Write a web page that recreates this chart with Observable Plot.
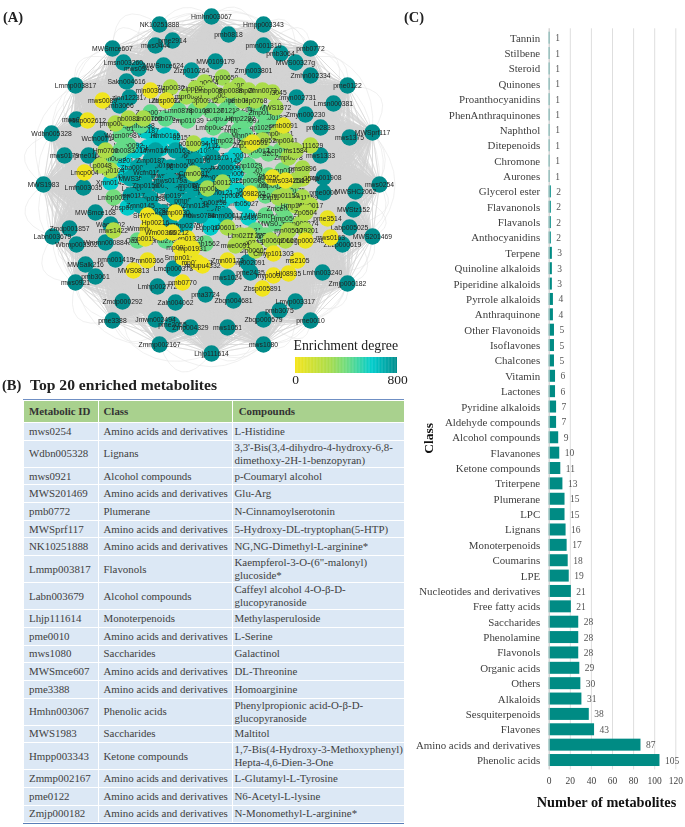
<!DOCTYPE html>
<html><head><meta charset="utf-8">
<script src="https://cdn.jsdelivr.net/npm/d3@7"></script>
<script src="https://cdn.jsdelivr.net/npm/@observablehq/plot@0.6"></script>
<style>
html,body{margin:0;padding:0;background:#fff}
#page{position:relative;width:685px;height:827px;overflow:hidden;font-family:"Liberation Serif",serif;filter:blur(0.4px)}
#page>div{position:absolute}
.tag{font-weight:bold;font-size:14.5px;color:#222}
#tb{left:23px;top:399px;width:381px;font-size:10.9px;color:#404040;background:#fff;border-top:1px solid #6f8fc4;border-bottom:1px solid #5b7fb8}
#tb table{border-collapse:collapse;table-layout:fixed;width:381px}
#tb td,#tb th{box-sizing:border-box;padding:0 0 0 5px;border:1px solid #fff;vertical-align:middle;text-align:left;white-space:pre-line;line-height:13px;overflow:visible}
#tb th{background:#a9d18e;font-weight:bold;height:22px;color:#333}
#tb td{background:#dce8f5}
#tb td:nth-child(3){padding-left:1.5px;white-space:pre}
#tb th:nth-child(3){padding-left:5.7px}
svg{display:block;overflow:visible}
</style></head><body>
<div id="page">
<div id="net" style="left:0;top:0"></div>
<div id="leg" style="left:285px;top:336px"></div>
<div class="tag" style="left:3px;top:9px">(A)</div>
<div class="tag" style="left:2px;top:377px">(B)</div>
<div class="tag" style="left:404px;top:9px">(C)</div>
<div style="left:30px;top:376px;font-weight:bold;font-size:15.6px;color:#222">Top 20 enriched metabolites</div>
<div id="tb"></div>
<div id="bars" style="left:400px;top:0"></div>
</div>
<script>
// ---------- Panel A : network nodes [name, layout x, layout y, enrichment degree]
const ringNodes = [
["Hmhn003067",211,16,800],["NK10251888",159,24,800],["Hmpp003343",263,24,800],["pmb0818",228,34,790],["pme2914",172,40,790],["mws0444",155,45,790],["pmn001310",263,45,790],["pmb0772",310,48,800],["pmb3064",280,53,780],["MWSmce607",112,48,800],["MW0109179",215,61,780],["MWSmce624",163,65,780],["MWS00327g",295,62,780],["Lmsn003260",123,62,780],["mws0943",138,68,780],["Zizp010264",191,70,760],["Zmjn003801",253,70,780],["Zmhn002334",310,75,800],["Sakn004616",126,81,780],["Lmmp003817",75,85,800],["pme0122",347,85,800],["Lmsn000381",333,103,790],["zion122317",129,97,780],["Zmyn002731",296,97,780],["pmb3066",119,105,770],["Zmyn000230",305,114,780],["mws0853",76,119,790],["Wdbn005328",51,133,800],["MWSprf117",372,132,800],["pmb2833",320,127,790],["mws1375",349,137,790],["Wcfn007146",100,138,780],["mws0179",64,155,790],["pme0166",88,155,790],["mws1333",320,155,790],["pmp001908",323,177,790],["MWS1983",43,184,800],["mws0254",379,184,800],["Lmfn003035",83,187,790],["MWSHC2062",355,191,790],["pme0000",323,192,790],["MWStz152",353,209,790],["MWSmce168",95,212,790],["Wagp002",110,224,780],["Zmdp001857",69,228,790],["Labn003679",52,236,800],["MWS201469",372,236,800],["Labp005025",349,227,790],["Wbmp003302",76,244,790],["Zbzp000619",342,244,790],["Wmmn000884",105,242,780],["pmn001419",115,259,780],["MWSalk216",85,264,790],["pmb3061",95,276,790],["mws0921",75,282,800],["Lmhn003240",322,272,790],["Zmjp000182",347,283,800],["mws1024",227,277,780],["pme2435",250,272,780],["zmp002091",247,262,770],["Lmcp000373",173,268,780],["Lmhp002772",157,286,790],["pma3724",205,294,790],["Zbqn004681",233,300,790],["Zmdp000292",122,301,800],["Zaln004062",175,302,790],["Lmyp003317",295,301,790],["pmb3075",279,310,790],["Zbqp000579",263,319,790],["Jmwn002494",155,319,790],["pme3388",112,320,800],["pme2055",172,324,790],["pme0010",310,320,800],["mws1051",227,327,800],["Zmp004329",190,327,790],["Zmmp002167",159,344,800],["mws1080",263,344,800],["Lhjp111614",211,353,800]
];
const cyanNodes = [
["Zbsp00347",127,207,610],["Zhan002151",172,137,590],["Wsnn0272",153,135,610],["MWSHY005",147,147,600],["mws1454",160,148,610],["MWS20146",123,160,600],["Lcmn0085",140,180,590],["Xmn0145",110,182,610],["pmn00187",212,145,600],["Zbn0112",205,145,610],["Zhp00012",235,155,590],["Cmp00053",235,173,600],["Lmp00023",237,190,590],["pmb05027",242,203,600],["nws4001",248,217,590],["mws1217",213,223,600],["Lqbp0140",210,227,610],["Mhn0321",222,200,620],["Hmn0141",135,150,610],["Lmp00981",125,175,600],["Zhp0187",145,130,620],["Wmn00321",225,180,600],["mp0145",228,160,610],["Zmp01094",198,150,600],["Hmb0165",165,135,610],["mws0731",220,215,600],["Lcp0024",230,195,590]
];
const tealCore = [
["Zbp000275",137,167,720],["nb0609",183,155,730],["Lasp002993",140,188,720],["Hmlp001950",160,185,730],["mws0178",170,167,720],["S00275",207,170,730],["Zhn003033",200,177,720],["Lmbp102833",177,205,730],["hmn00617",190,215,730],["Zmp002003",162,212,740],["mp00213",203,200,720],["mws0782",210,208,730],["nmp00219",170,225,720],["Lmbp00158",208,202,730],["hn000000",225,167,720],["mp001870",212,157,740],["Hmm00017",225,215,730],["Zbp0195",160,165,730],["MWS30",130,178,720],["Lmm0149",155,150,730],["Zhp0013",185,175,740],["Mhp0221",195,188,730],["Hp0150",178,188,740],["Zmjp0188",150,198,730],["Lmp01975",172,195,730],["pmn0277",188,200,730],["mws0784",200,215,720],["Hmmn0121",215,192,720],["Wcfn0165",148,172,730],["Zxp01032",215,177,740],["Zmp0187",150,160,740],["Lmn0163",175,150,720],["Hmp0190",195,160,730],["mws1190",165,175,720],["pmb0609",180,165,730],["Zbp0150",145,185,740],["Lmn0282",155,210,730],["Hmp0275",185,225,720],["Cmn0117",130,195,730],["Zmn0145",140,205,720],["mp0197",190,185,730],["Wcn0116",205,185,720],["mws0179a",170,180,730],["Zhn0124",195,205,720]
];
const greenNodes = [
["Zmjn0076",150,112,430],["Lmap0123",125,128,430],["Wgcn0098",120,135,420],["Hmm0098",110,158,420],["Zmp01039",187,120,420],["Lmbp00876",213,127,420],["Hmpn0013",232,113,420],["Zmp1029",255,108,430],["mn00182",272,117,420],["Lbtp0108",220,118,430],["pmb2280",238,130,420],["Zhp102906",262,127,420],["WS2005",268,153,410],["Zhp00147",255,170,420],["Lsmn0105",282,170,400],["Smce0072",265,195,420],["MWSmce482",265,215,420],["MWS01502",275,223,420],["Zmce0087",282,208,400],["Qazp00",137,240,420],["pmb2787",165,240,430],["pmb1562",205,243,410],["Lmbp0027",113,197,390],["Mhn0145",245,135,430],["Lmp0012",255,150,420],["Zhp1029",248,165,430],["Ybjp0087",268,175,420],["Hmp0210",225,140,420],["Lmn0875",228,100,410],["Hmn0097",245,120,420],["Zmp0110",262,112,420],["Lcp0127",280,150,400],["Mp01218",225,110,420],["Zhp0127",210,110,410],["nmp0108",195,110,420],["Lmb0761",165,118,430],["Lmn0878",178,110,420],["Hmp2282",240,118,420],["Zhn0051",260,185,420],["mp00165",275,185,410],["Lcp00982",250,180,430],["Smp0175",290,190,400],["Lbp2112",255,230,420],["MWS0114",265,235,400],["Hmp0500",285,218,410],["Wqp0092",128,145,420],["Zmb0083",120,150,420],["Lmh0088",140,125,430]
];
const limeNodes = [
["Zizp00650",222,77,290],["Zizp0064",204,82,270],["hp00884",238,85,280],["Lmhp00882",218,95,280],["pmb3045",272,92,260],["pmb0853",242,100,290],["Ymp0077",248,90,270],["MWS1872",275,107,280],["Lmbp00912",200,100,270],["Zizp0030",170,87,260],["Lmhp00821",166,100,240],["Lmpr0080",186,96,280],["Wqan00760",143,118,270],["pmp00011",115,123,240],["p0100094",193,143,250],["Zhp10293",247,145,240],["pmp00041",277,133,260],["p111629",310,145,220],["mp0041",285,140,260],["mws0254a",302,178,200],["Zmp0078",288,157,280],["pms0896",302,168,270],["Zipp0104",110,170,250],["mws1422",113,230,240],["Cmn0081",193,173,280],["Smp0088",207,188,290],["p0060121",227,227,270],["Lcjp211220",248,235,260],["mwso0323n",248,242,240],["sip006059",255,250,230],["Zxp111615",278,197,280],["pmp11159",302,197,270],["Hmp1017",295,205,270],["pmp000874",300,223,280],["J179201",305,230,260],["mn00500",288,230,270],["p0012",222,182,290],["Zhp0052",262,140,260],["Zipp0077",195,88,270],["Lmbp0087",210,90,280],["mp0088",230,90,270],["Hp0768",255,100,280],["Zmn0073",262,90,260],["ms1584",295,150,260],["Lmn1115",295,180,270],["mp01159",285,195,270],["Wq0017",310,205,240],["Zp0504",305,212,230],["Lcp0211",240,235,270],["mwe0091",235,245,250],["Hp0607",285,240,230],["Cp00602",270,240,260],["nb0082",128,118,250],["Hm0760",105,150,250],["Lp0048",100,165,240]
];
const yellowNodes = [
["mws0089",102,100,10],["Hmp002612",87,120,20],["mjn00366",150,90,20],["Lmcp004",84,172,10],["Zbsp0027",166,100,60],["pmb0091",283,125,60],["Zhn00501",252,142,50],["p0025687",272,177,40],["p0098262",250,193,10],["pme3514",327,218,40],["Lcgp000248",305,240,30],["mws0163",330,237,20],["SHY0286",147,215,20],["Wmmn00918",147,228,30],["mp00194",145,238,50],["Zmp0030",175,212,40],["Lmp01320",187,238,30],["mp00306",180,247,20],["Zmp00212",172,232,30],["Zmn00366",147,260,20],["MWS0813",133,270,10],["Smpn01178",182,257,20],["mp021671",197,262,20],["mpupu4332",202,265,10],["pmb0770",182,282,10],["Zmn00173",227,260,20],["myp009288",273,275,10],["Hj08935",288,273,20],["ms2105",297,260,10],["Cmyp101303",273,253,20],["Zbsp005891",262,288,10],["mws034254",285,180,30],["mp01931",192,248,30],["Wm00366",160,232,30],["Hp00216",155,222,30]
];
const degreeStops = [0,270,400,600,800];
const degreeColors = ["#f5e51b","#a8dc4c","#6fdc80","#00cdcd","#008b8b"];
const degreeEnds = [0,800];
const degreeRamp = d3.range(0,800,6);

// ---------- Panel B : table
const tableHeads = ["Metabolic ID","Class","Compounds"];
const tableIds = ["mws0254","Wdbn005328","mws0921","MWS201469","pmb0772","MWSprf117","NK10251888","Lmmp003817","Labn003679","Lhjp111614","pme0010","mws1080","MWSmce607","pme3388","Hmhn003067","MWS1983","Hmpp003343","Zmmp002167","pme0122","Zmjp000182"];
const tableClasses = ["Amino acids and derivatives","Lignans","Alcohol compounds","Amino acids and derivatives","Plumerane","Amino acids and derivatives","Amino acids and derivatives","Flavonols","Alcohol compounds","Monoterpenoids","Amino acids and derivatives","Saccharides","Amino acids and derivatives","Amino acids and derivatives","Phenolic acids","Saccharides","Ketone compounds","Amino acids and derivatives","Amino acids and derivatives","Amino acids and derivatives"];
const tableCompounds = ["L-Histidine","3,3'-Bis(3,4-dihydro-4-hydroxy-6,8-\ndimethoxy-2H-1-benzopyran)","p-Coumaryl alcohol","Glu-Arg","N-Cinnamoylserotonin","5-Hydroxy-DL-tryptophan(5-HTP)","NG,NG-Dimethyl-L-arginine*","Kaempferol-3-O-(6\"-malonyl)\nglucoside*","Caffeyl alcohol 4-O-β-D-\nglucopyranoside","Methylasperuloside","L-Serine","Galactinol","DL-Threonine","Homoarginine","Phenylpropionic acid-O-β-D-\nglucopyranoside","Maltitol","1,7-Bis(4-Hydroxy-3-Methoxyphenyl)\nHepta-4,6-Dien-3-One","L-Glutamyl-L-Tyrosine","N6-Acetyl-L-lysine","N-Monomethyl-L-arginine*"];

// ---------- Panel C : bars
const classNames = ["Tannin","Stilbene","Steroid","Quinones","Proanthocyanidins","PhenAnthraquinones","Naphthol","Ditepenoids","Chromone","Aurones","Glycerol ester","Flavanonols","Flavanols","Anthocyanidins","Terpene","Quinoline alkaloids","Piperidine alkaloids","Pyrrole alkaloids","Anthraquinone","Other Flavonoids","Isoflavones","Chalcones","Vitamin","Lactones","Pyridine alkaloids","Aldehyde compounds","Alcohol compounds","Flavanones","Ketone compounds","Triterpene","Plumerane","LPC","Lignans","Monoterpenoids","Coumarins","LPE","Nucleotides and derivatives","Free fatty acids","Saccharides","Phenolamine","Flavonols","Organic acids","Others","Alkaloids","Sesquiterpenoids","Flavones","Amino acids and derivatives","Phenolic acids"];
const classCounts = [1,1,1,1,1,1,1,1,1,1,2,2,2,2,3,3,3,4,4,5,5,5,6,6,7,7,9,10,11,13,15,15,16,17,18,19,21,21,28,28,28,29,30,31,38,43,87,105];
const countTicks = [0,20,40,60,80,100,120];

// ---------- draw A
const serif = '"Liberation Serif",serif', sans = '"Liberation Sans",sans-serif';
const asNode = ([name,x,y,degree])=>({name,x,y,degree});
const ring = ringNodes.map(asNode);
const core = [...cyanNodes,...tealCore,...greenNodes,...limeNodes,...yellowNodes].map(asNode);
const nodes = [...ring,...core];
const edges = d3.cross(ring,nodes).filter(([a,b])=>a!==b);
const hub = {x:211,y:185};
const angleOf = n=>Math.atan2(n.y-hub.y,n.x-hub.x);
const rim = ring.filter(n=>Math.hypot(n.x-hub.x,n.y-hub.y)>125).sort((a,b)=>angleOf(a)-angleOf(b));
const arcs = rim.flatMap((a,i)=>[3,5].map(k=>[a,rim[(i+k)%rim.length]]));
// each arc bows away from the hub
const arcCurve = ctx=>{let p=[];return{
  lineStart(){p=[]},
  point(x,y){p.push([x,y])},
  lineEnd(){const [a,b]=p,mx=(a[0]+b[0])/2,my=(a[1]+b[1])/2;
    ctx.moveTo(a[0],a[1]);
    ctx.quadraticCurveTo(mx+(mx-hub.x)*0.28,my+(my-hub.y)*0.28,b[0],b[1]);}
}};
const colorScale = {type:"linear",domain:degreeStops,range:degreeColors};
const labelOpts = {x:"x",y:"y",text:"name",fontSize:6.8,fontFamily:sans,fill:"#222"};
const dotOpts = {x:"x",y:"y",r:8.2,fill:"degree",stroke:"none"};
document.getElementById("net").append(Plot.plot({
  width:400,height:376,margin:0,
  x:{domain:[0,400],range:[0,400],axis:null},
  y:{domain:[0,376],range:[0,376],axis:null},
  color:{...colorScale,domain:degreeStops},
  style:{background:"transparent"},
  marks:[
    Plot.link(arcs,{x1:d=>d[0].x,y1:d=>d[0].y,x2:d=>d[1].x,y2:d=>d[1].y,stroke:"#e6e6e6",strokeWidth:0.6,curve:arcCurve}),
    Plot.link(edges,{x1:d=>d[0].x,y1:d=>d[0].y,x2:d=>d[1].x,y2:d=>d[1].y,stroke:"#d2d2d2",strokeWidth:0.5}),
    Plot.dot(ring,dotOpts),
    Plot.text(ring,labelOpts),
    // a later node covers the labels of the nodes under it
    ...core.flatMap(n=>[Plot.dot([n],dotOpts),Plot.text([n],labelOpts)])
  ]}));

// ---------- legend
document.getElementById("leg").append(Plot.plot({
  width:115,height:50,marginLeft:10,marginRight:3,marginTop:21,marginBottom:13,
  x:{domain:[0,800],axis:null},
  y:{domain:[0,1],axis:null},
  color:colorScale,
  style:{background:"transparent",overflow:"visible"},
  marks:[
    Plot.rect(degreeRamp,{x1:d=>d,x2:d=>Math.min(d+9,800),y1:0,y2:1,fill:d=>d}),
    Plot.text(["Enrichment degree"],{frameAnchor:"top-left",dx:-2,dy:-12,text:d=>d,fontFamily:serif,fontSize:13.8,fill:"#222",lineAnchor:"middle"}),
    Plot.text(degreeEnds,{x:d=>d,frameAnchor:"bottom",dy:10,text:d=>d,fontFamily:serif,fontSize:13.5,fill:"#222",textAnchor:"middle",lineAnchor:"bottom"})
  ]}));

// ---------- draw B
const tbl = d3.select("#tb").append("table");
tbl.append("tr").selectAll("th").data(tableHeads).join("th").text(d=>d);
tableIds.forEach((id,i)=>{
  const two = tableCompounds[i].includes("\n");
  const tr = tbl.append("tr");
  [id,tableClasses[i],tableCompounds[i]].forEach(t=>tr.append("td").style("height",(two?26.9:17.7)+"px").text(t));
});
const hc = tbl.selectAll("th").nodes();
hc[0].style.width="74.5px";hc[1].style.width="134.5px";hc[2].style.width="172px";

// ---------- draw C
const rows = classNames.map((name,i)=>({name,count:classCounts[i]}));
document.getElementById("bars").append(Plot.plot({
  width:285,height:827,marginTop:28.3,marginBottom:57.6,marginLeft:148.7,marginRight:9.7,
  x:{domain:[0,120],ticks:countTicks,label:null},
  y:{domain:classNames,padding:0.22,round:false,label:null},
  style:{background:"transparent",fontFamily:serif,overflow:"visible"},
  marks:[
    Plot.gridX(countTicks,{stroke:"#dedede",strokeOpacity:1,strokeWidth:1}),
    Plot.barX(rows,{x:"count",y:"name",fill:"#008b84"}),
    Plot.ruleX([0],{stroke:"#d0d0d0"}),
    Plot.axisY({tickSize:0,tickPadding:9,fontSize:10.9,fill:"#404040",label:null}),
    Plot.axisX(countTicks,{tickSize:0,tickPadding:7,fontSize:9.5,fill:"#404040",label:null}),
    Plot.text(rows,{x:"count",y:"name",text:d=>String(d.count),dx:5,textAnchor:"start",fontSize:9.5,fill:"#555"}),
    Plot.text(["Class"],{frameAnchor:"left",rotate:-90,dx:-120.7,dy:39,textAnchor:"middle",text:d=>d,fontWeight:"bold",fontSize:13.5,fill:"#111"}),
    Plot.text(["Number of metabolites"],{frameAnchor:"bottom",dx:-6,dy:37,text:d=>d,fontWeight:"bold",fontSize:14.3,fill:"#111"})
  ]}));
</script>
</body></html>
